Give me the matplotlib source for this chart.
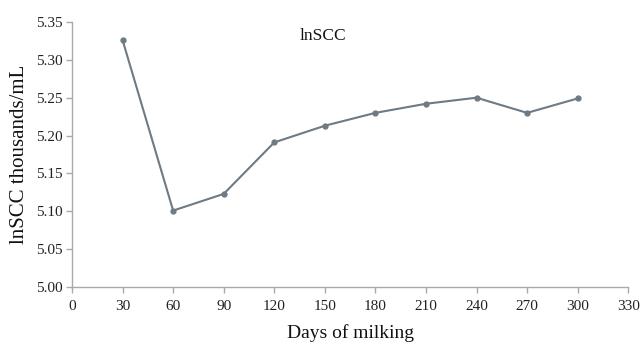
import matplotlib.pyplot as plt

days = [30, 60, 90, 120, 150, 180, 210, 240, 270, 300]
lnscc = [5.326, 5.101, 5.123, 5.191, 5.213, 5.230, 5.242, 5.250, 5.230, 5.249]
xticks = list(range(0, 331, 30))
yticks = [5.00, 5.05, 5.10, 5.15, 5.20, 5.25, 5.30, 5.35]

plt.rcParams['font.family'] = ['Liberation Serif', 'DejaVu Serif']

fig = plt.figure(figsize=(6.43, 3.43), dpi=100)
ax = fig.add_axes([0.112, 0.163, 0.865, 0.773])

line_col = '#6e7a84'
ax.plot(days, lnscc, color=line_col, lw=1.5, marker='o', ms=3.5)

ax.set_xlim(0, 330)
ax.set_ylim(5.00, 5.35)
ax.set_xticks(xticks)
ax.set_yticks(yticks)
ax.set_yticklabels([f'{v:.2f}' for v in yticks])

for s in ['top', 'right']:
    ax.spines[s].set_visible(False)
for s in ['bottom', 'left']:
    ax.spines[s].set_color('#a8aaad')
    ax.spines[s].set_linewidth(1.0)
ax.tick_params(axis='both', direction='out', length=4, width=1.0,
               color='#a8aaad', labelsize=11, labelcolor='#222222')
ax.tick_params(axis='x', pad=5)
ax.tick_params(axis='y', pad=3)

ax.set_xlabel('Days of milking', fontsize=14, labelpad=8, color='#111111')
ax.set_ylabel('lnSCC thousands/mL', fontsize=15, labelpad=5, color='#111111')

ax.text(149, 5.331, 'lnSCC', fontsize=12.5, ha='center', va='center', color='#111111')

fig.savefig('out.png', dpi=100)
